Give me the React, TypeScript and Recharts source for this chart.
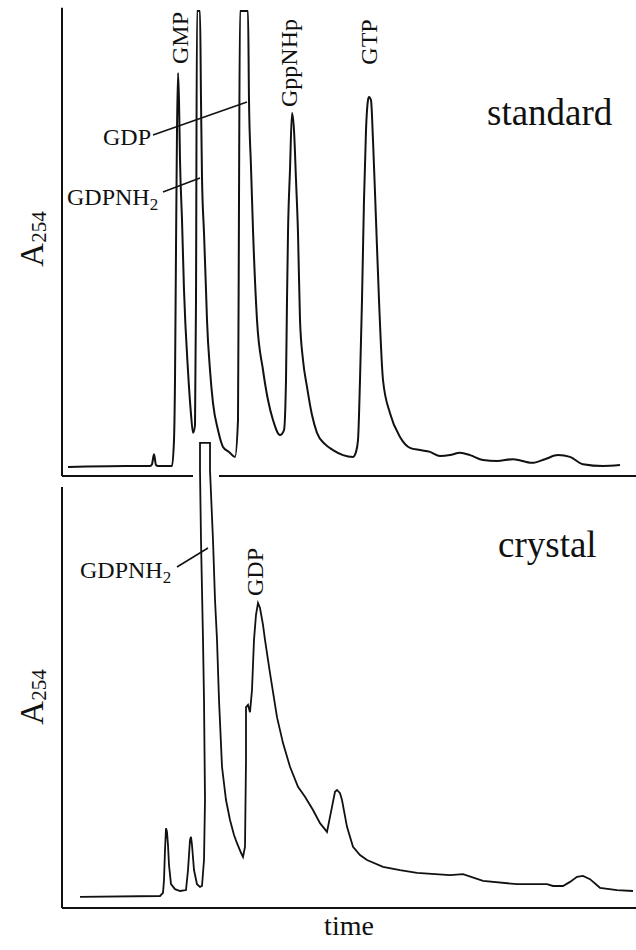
import React from 'react';
import { ComposedChart, Line, XAxis, YAxis, ReferenceLine, Customized } from 'recharts';

// time axis (arbitrary units)
const stdTime = [0.6, 6.4, 8.8, 9.0, 9.2, 9.4, 9.6, 11.0, 11.2, 11.3, 11.4, 11.5, 11.6, 11.7, 11.8, 12.0, 12.2, 12.6, 12.9, 13.1, 13.3, 13.4, 13.5, 13.8, 13.9, 14.0, 14.2, 14.4, 14.5, 14.8, 15.1, 15.6, 16.1, 16.7, 17.3, 17.6, 17.7, 17.8, 18.6, 18.7, 18.9, 19.1, 19.5, 20.1, 20.6, 21.1, 21.8, 22.2, 22.4, 22.5, 22.6, 22.8, 23.0, 23.2, 23.4, 23.6, 23.8, 24.1, 24.5, 25.0, 25.5, 26.3, 27.1, 28.1, 29.1, 29.4, 29.6, 29.8, 30.0, 30.2, 30.4, 30.6, 30.7, 30.9, 31.1, 31.4, 31.7, 32.1, 32.8, 33.8, 34.8, 35.8, 36.8, 37.8, 38.8, 39.8, 40.8, 42.1, 43.5, 45.1, 47.0, 48.3, 49.6, 50.8, 52.1, 54.1, 55.8];
const stdAbs = [-0.2, 0, 0, 0.4, 2.6, 0.2, 0, 0, 5.7, 18.9, 47.5, 73.8, 86.4, 80.4, 67.3, 54.1, 38.7, 20.9, 11.4, 7.3, 9.0, 36.5, 100, 100, 80.4, 63.5, 51.2, 38.7, 32.1, 21.1, 13.8, 7.9, 4.2, 3.1, 2.0, 10.1, 58.5, 100, 100, 80.4, 65.7, 51.9, 32.1, 21.1, 14.5, 10.1, 6.8, 7.9, 18.9, 36.5, 51.2, 65.1, 77.6, 73.8, 62.9, 51.2, 32.1, 23.3, 17.4, 11.2, 7.3, 4.8, 3.5, 2.4, 2.0, 3.1, 5.7, 18.9, 36.5, 58.5, 73.8, 80.4, 81.1, 80.4, 71.6, 54.1, 36.5, 18.9, 11.6, 6.4, 4.0, 3.5, 3.1, 2.2, 2.4, 2.9, 2.4, 1.3, 1.1, 1.5, 0.7, 1.5, 2.4, 2.0, 0.4, 0, 0.2];

const cryTime = [1.8, 9.8, 10.1, 10.2, 10.3, 10.4, 10.5, 10.6, 10.7, 10.9, 11.3, 11.8, 12.4, 12.6, 12.8, 12.9, 13.0, 13.2, 13.5, 13.8, 14.0, 14.2, 14.3, 14.2, 14.1, 13.9, 13.8, 13.8, 14.8, 14.8, 15.1, 15.3, 15.5, 15.7, 16.0, 16.4, 16.8, 17.2, 17.5, 17.9, 18.1, 18.3, 18.4, 18.4, 18.6, 18.8, 19.0, 19.2, 19.4, 19.6, 19.8, 20.1, 20.3, 20.8, 21.5, 22.1, 22.8, 23.6, 24.3, 25.1, 25.8, 26.5, 27.0, 27.3, 27.5, 27.8, 28.0, 28.5, 29.1, 29.8, 30.5, 32.1, 33.8, 35.5, 38.8, 40.1, 42.1, 45.5, 48.5, 49.1, 50.1, 50.8, 51.5, 52.1, 52.8, 53.8, 55.5, 57.1];
const cryAbs = [-0.2, 0, 0.7, 3.5, 10.1, 14.9, 14.1, 11.2, 6.8, 2.6, 1.5, 1.1, 1.3, 5.7, 12.3, 13.0, 11.2, 5.7, 2.6, 2.0, 2.2, 7.9, 21.1, 43.1, 56.3, 78.2, 93.6, 99.6, 99.6, 93.6, 78.2, 65.1, 56.3, 43.1, 28.4, 21.1, 16.7, 13.4, 11.6, 9.5, 8.6, 10.8, 29.9, 41.5, 42.0, 40.4, 45.3, 56.3, 61.8, 64.4, 63.3, 59.6, 56.3, 49.0, 39.3, 33.6, 28.4, 24.0, 21.8, 18.9, 16.0, 14.1, 19.6, 22.9, 23.3, 22.6, 21.1, 15.2, 10.8, 9.0, 7.9, 6.4, 5.7, 5.1, 4.6, 4.8, 3.3, 2.6, 2.6, 2.2, 2.2, 3.1, 4.2, 4.4, 3.7, 1.8, 1.3, 1.1];

const panelNames = ['standard', 'crystal'];
const yTitle = 'A';
const ySub = '254';
const xTitle = 'time';

const stdData = stdTime.map((t, i) => ({ t, a: stdAbs[i] }));
const cryData = cryTime.map((t, i) => ({ t, a: cryAbs[i] }));

const FONT = "'Liberation Serif', 'Times New Roman', serif";

const Annotations = () => (
  <g fontFamily={FONT} fill="#111">
    {/* y titles */}
    <text transform="rotate(-90, 43, 239)" x={43} y={239} textAnchor="middle" fontSize={33}>
      {yTitle}<tspan fontSize={21} dy={3}>{ySub}</tspan>
    </text>
    <text transform="rotate(-90, 43, 697)" x={43} y={697} textAnchor="middle" fontSize={33}>
      {yTitle}<tspan fontSize={21} dy={3}>{ySub}</tspan>
    </text>
    {/* panel names */}
    <text x={487} y={125} fontSize={37}>{panelNames[0]}</text>
    <text x={498} y={557} fontSize={37}>{panelNames[1]}</text>
    {/* x title */}
    <text x={349} y={935} fontSize={28} textAnchor="middle">{xTitle}</text>
    {/* top peak labels */}
    <text transform="rotate(-90, 188, 38)" x={188} y={38} textAnchor="middle" fontSize={24}>GMP</text>
    <text transform="rotate(-90, 297, 63)" x={297} y={63} textAnchor="middle" fontSize={24}>GppNHp</text>
    <text transform="rotate(-90, 377, 42)" x={377} y={42} textAnchor="middle" fontSize={24}>GTP</text>
    <text x={103} y={145} fontSize={24}>GDP</text>
    <text x={67} y={205} fontSize={24}>GDPNH<tspan fontSize={17} dy={5}>2</tspan></text>
    <line x1={153} y1={135} x2={247} y2={102} stroke="#111" strokeWidth={1.5} />
    <line x1={163} y1={192} x2={200} y2={178} stroke="#111" strokeWidth={1.5} />
    {/* bottom peak labels */}
    <text x={80} y={578} fontSize={24}>GDPNH<tspan fontSize={17} dy={5}>2</tspan></text>
    <line x1={177} y1={567} x2={208} y2={548} stroke="#111" strokeWidth={1.5} />
    <text transform="rotate(-90, 263, 572)" x={263} y={572} textAnchor="middle" fontSize={24}>GDP</text>
  </g>
);

export default function App() {
  return (
    <div style={{ position: 'absolute', left: 0, top: 0, width: 636, height: 950, background: '#fff' }}>
      <ComposedChart width={636} height={950} margin={{ top: 0, right: 0, bottom: 0, left: 62 }}>
        <XAxis
          type="number"
          dataKey="t"
          domain={[0, 57.4]}
          height={42}
          tick={false}
          tickLine={false}
          axisLine={{ stroke: '#111', strokeWidth: 2 }}
        />
        <YAxis yAxisId="std" type="number" domain={[-97.14, 102.42]} hide />
        <YAxis yAxisId="cry" type="number" domain={[-2.64, 196.92]} hide />
        {/* top panel frame */}
        <ReferenceLine yAxisId="std" ifOverflow="visible" segment={[{ x: 0, y: 100.7 }, { x: 0, y: -2.2 }]} stroke="#111" strokeWidth={2} />
        <ReferenceLine yAxisId="std" ifOverflow="visible" segment={[{ x: 0, y: -2.2 }, { x: 13.1, y: -2.2 }]} stroke="#111" strokeWidth={2} />
        <ReferenceLine yAxisId="std" ifOverflow="visible" segment={[{ x: 15.7, y: -2.2 }, { x: 57.4, y: -2.2 }]} stroke="#111" strokeWidth={2} />
        {/* bottom panel frame */}
        <ReferenceLine yAxisId="cry" ifOverflow="visible" segment={[{ x: 0, y: 89.9 }, { x: 0, y: -2.64 }]} stroke="#111" strokeWidth={2} />
        <Line yAxisId="std" data={stdData} dataKey="a" type="monotoneX" stroke="#111" strokeWidth={2} dot={false} activeDot={false} isAnimationActive={false} />
        <Line yAxisId="cry" data={cryData} dataKey="a" type="linear" stroke="#111" strokeWidth={1.8} dot={false} activeDot={false} isAnimationActive={false} />
        <Customized component={Annotations} />
      </ComposedChart>
    </div>
  );
}
